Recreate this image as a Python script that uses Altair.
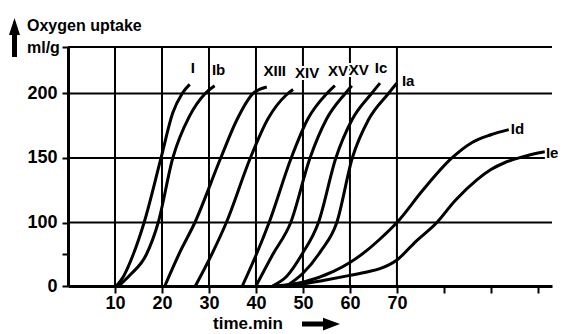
import altair as alt
import pandas as pd

FONT = "Liberation Sans"

# ---- data (time in min, oxygen uptake in ml/g) ----
series_keys = ["I", "Ib", "XIII", "XIV", "XV_a", "XV_b", "Ic", "Ia", "Id", "Ie"]
series_text = ["I", "Ib", "XIII", "XIV", "XV", "XV", "Ic", "Ia", "Id", "Ie"]

I_t = [10.3, 11.8, 13.9, 16.2, 19.8, 22.3, 24.3, 25.9]
I_v = [0, 15, 50, 100, 150, 185, 200, 207]
Ib_t = [10.8, 13.3, 16.7, 19.2, 22.3, 25.8, 29.2, 31.2]
Ib_v = [0, 18, 50, 100, 150, 182, 200, 206]
XIII_t = [20.6, 23.6, 27.0, 32.5, 36.0, 39.4, 42.3]
XIII_v = [0, 50, 100, 150, 180, 200, 205]
XIV_t = [27.1, 30.6, 33.7, 38.8, 42.5, 46.5, 47.9]
XIV_v = [0, 50, 100, 150, 180, 199, 203]
XVa_t = [37.1, 40.1, 42.8, 47.5, 51.0, 55.1, 56.8]
XVa_v = [0, 50, 100, 150, 180, 200, 206]
XVb_t = [40.0, 43.6, 47.4, 51.5, 55.0, 59.0, 60.4]
XVb_v = [0, 50, 100, 150, 180, 200, 206]
Ic_t = [43.5, 46.5, 49.8, 53.3, 57.0, 60.5, 64.6, 66.4]
Ic_v = [0, 15, 50, 100, 150, 180, 200, 208]
Ia_t = [46.5, 50.0, 53.8, 57.2, 60.5, 64.0, 68.2, 70.0]
Ia_v = [0, 20, 55, 100, 150, 180, 200, 208]
Id_t = [44.0, 50.0, 56.5, 60.0, 63.6, 66.4, 70.0, 75.5, 81.7, 86.0, 90.0, 93.8]
Id_v = [0, 6, 23, 37, 56, 74, 100, 125, 150, 162, 168, 172]
Ie_t = [46.0, 50.0, 54.3, 60.0, 63.6, 66.4, 70.0, 74.0, 78.5, 82.4, 87.0, 90.0, 93.0, 96.9, 100.0, 101.5]
Ie_v = [0, 3, 8.7, 16.7, 22, 27.3, 41, 70, 100, 117, 133, 141, 146.5, 151, 153.8, 154.8]

all_t = [I_t, Ib_t, XIII_t, XIV_t, XVa_t, XVb_t, Ic_t, Ia_t, Id_t, Ie_t]
all_v = [I_v, Ib_v, XIII_v, XIV_v, XVa_v, XVb_v, Ic_v, Ia_v, Id_v, Ie_v]

grid_x = [10, 20, 30, 40, 50, 60, 70]
tick_x = [10, 20, 30, 40, 50, 60, 70, 80, 90, 100]
Y_TOP = 236
grid_y = [100, 150, 200, Y_TOP]
tick_y = [0, 50, 100, 150, 200, Y_TOP]

rows = []
for key, ts, vs in zip(series_keys, all_t, all_v):
    for i, (t, v) in enumerate(zip(ts, vs)):
        rows.append({"series": key, "t": t, "v": v, "o": i})
curves = pd.DataFrame(rows)

# ---- layout ----
W, H = 484, 239

xs = alt.Scale(domain=[0, 103], nice=False, zero=False)
ys = alt.Scale(domain=[0, 100, Y_TOP], range=[H, 175.5, 0], nice=False, zero=False)

x_axis = alt.Axis(values=tick_x, labelExpr="datum.value <= 70 ? datum.label : ''",
                  grid=False, domainColor="black", domainWidth=3, tickColor="black",
                  tickWidth=2, tickSize=7, labelFont=FONT, labelFontSize=18,
                  labelFontWeight="bold", labelColor="black", labelPadding=1, title=None)
y_axis = alt.Axis(values=tick_y,
                  labelExpr="(datum.value == 50 || datum.value > 220) ? '' : datum.label",
                  grid=False, domainColor="black", domainWidth=3, tickColor="black",
                  tickWidth=2, tickSize=6, labelFont=FONT, labelFontSize=18,
                  labelFontWeight="bold", labelColor="black", labelPadding=5, title=None)

X = alt.X("t:Q", scale=xs, axis=x_axis)
Y = alt.Y("v:Q", scale=ys, axis=y_axis)

vgrid = alt.Chart(pd.DataFrame({"t": grid_x})).mark_rule(color="black", strokeWidth=2).encode(x=X)
hgrid = alt.Chart(pd.DataFrame({"v": grid_y})).mark_rule(color="black", strokeWidth=2).encode(y=Y)

lines = alt.Chart(curves).mark_line(color="black", strokeWidth=3, interpolate="monotone").encode(
    x=X, y=Y, detail="series:N", order="o:Q")

# labels at the end of each curve, shifted by a small style offset
label_offsets = {
    "I": (3, -16), "Ib": (4, -16), "XIII": (8, -16), "XIV": (14, -17),
    "XV_a": (3, -15), "XV_b": (7, -16), "Ic": (1, -15), "Ia": (5, -2),
    "Id": (2, -1), "Ie": (1, 1),
}
label_layers = []
for halo in (True, False):
    for key, txt, ts, vs in zip(series_keys, series_text, all_t, all_v):
        dx, dy = label_offsets[key]
        align = "left" if key in ("Ia", "Id", "Ie") else "center"
        df = pd.DataFrame({"t": [ts[-1]], "v": [vs[-1]], "lab": [txt]})
        if halo:
            mk = alt.Chart(df).mark_text(font=FONT, fontSize=15, fontWeight="bold", color="white",
                                         stroke="white", strokeWidth=4,
                                         align=align, baseline="middle", dx=dx, dy=dy)
        else:
            mk = alt.Chart(df).mark_text(font=FONT, fontSize=15, fontWeight="bold", color="black",
                                         align=align, baseline="middle", dx=dx, dy=dy)
        label_layers.append(mk.encode(x=X, y=Y, text="lab:N"))

one = pd.DataFrame({"a": [0]})
title1 = alt.Chart(pd.DataFrame({"s": ["Oxygen uptake"]})).mark_text(
    font=FONT, fontSize=16, fontWeight="bold", color="black", align="left", baseline="alphabetic"
).encode(text="s:N", x=alt.value(-41), y=alt.value(-16))
title2 = alt.Chart(pd.DataFrame({"s": ["ml/g"]})).mark_text(
    font=FONT, fontSize=16, fontWeight="bold", color="black", align="left", baseline="alphabetic"
).encode(text="s:N", x=alt.value(-41), y=alt.value(6))
up_shaft = alt.Chart(one).mark_rule(color="black", strokeWidth=5).encode(
    x=alt.value(-53.5), y=alt.value(-18), y2=alt.value(10))
up_head = alt.Chart(one).mark_point(shape="M-0.65,1L0,-1L0.65,1Z", filled=True, color="black",
                                    opacity=1, size=289).encode(x=alt.value(-53.5), y=alt.value(-20.5))
xtitle = alt.Chart(pd.DataFrame({"s": ["time.min"]})).mark_text(
    font=FONT, fontSize=17, fontWeight="bold", color="black", align="left", baseline="alphabetic"
).encode(text="s:N", x=alt.value(145), y=alt.value(282))
r_shaft = alt.Chart(one).mark_rule(color="black", strokeWidth=5).encode(
    x=alt.value(234), x2=alt.value(260), y=alt.value(277))
r_head = alt.Chart(one).mark_point(shape="M-1,-0.75L1,0L-1,0.75Z", filled=True, color="black",
                                   opacity=1, size=289).encode(x=alt.value(263.5), y=alt.value(277))

chart = alt.layer(vgrid, hgrid, lines, *label_layers, title1, title2, up_shaft, up_head,
                  xtitle, r_shaft, r_head).properties(
    width=W, height=H,
    autosize=alt.AutoSizeParams(type="none"),
    padding={"left": 60, "top": 39, "right": 6, "bottom": 46},
    background="white",
).configure_view(strokeWidth=0)

chart.save("out.html", embed_options={"renderer": "svg", "actions": False})
